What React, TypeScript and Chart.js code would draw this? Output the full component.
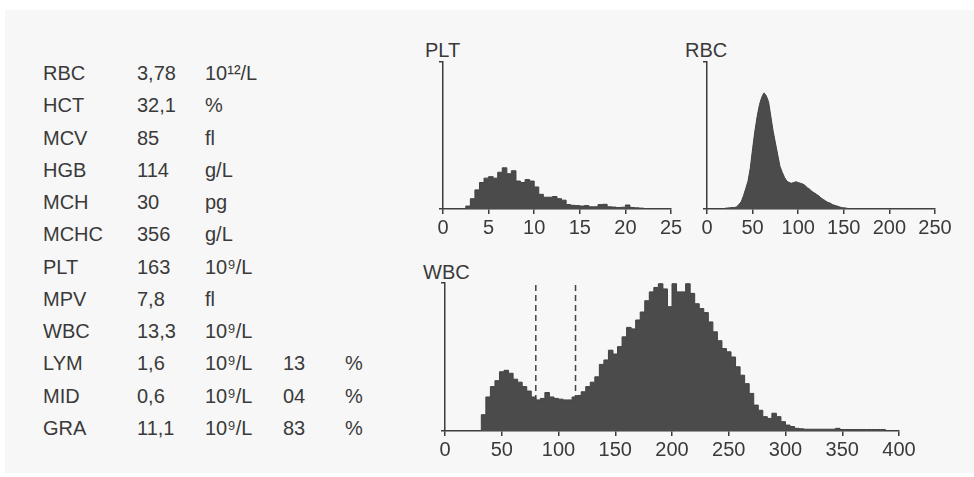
import React, { useEffect, useRef } from "react";
import { Chart, registerables } from "chart.js";

Chart.register(...registerables);

const FONT = "'Liberation Sans', Arial, Helvetica, sans-serif";
const INK = "#3a3a3a";
const AXIS = "#3c3c3c";
const FILL = "#4b4b4b";

// ---- parameter table ----
const paramNames = ["RBC", "HCT", "MCV", "HGB", "MCH", "MCHC", "PLT", "MPV", "WBC", "LYM", "MID", "GRA"];
const paramValues = ["3,78", "32,1", "85", "114", "30", "356", "163", "7,8", "13,3", "1,6", "0,6", "11,1"];
const paramUnits = ["10¹²/L", "%", "fl", "g/L", "pg", "g/L", "10⁹/L", "fl", "10⁹/L", "10⁹/L", "10⁹/L", "10⁹/L"];
const paramPercents = ["", "", "", "", "", "", "", "", "", "13", "04", "83"];
const paramPercentSign = ["", "", "", "", "", "", "", "", "", "%", "%", "%"];

// ---- PLT histogram (fl), 0.5 fl bins, relative height 0-100 ----
const pltBinWidth = 0.5;
const pltMax = 25;
const pltTicks = [0, 5, 10, 15, 20, 25];
const pltCounts = [
  0, 0, 0, 0, 0, 0, 2, 7, 13, 18,
  21, 22, 21, 25, 28, 24, 26, 19, 18, 20,
  19, 15, 10, 8, 8, 8.5, 7, 6, 3, 2.5,
  2.3, 2, 2.3, 1.5, 1.5, 3, 3.2, 1.5, 1.3, 1,
  1.2, 2.7, 1, 0.8, 0.6, 0.3, 0.2, 0.2, 0.2, 0.2,
];

// ---- RBC histogram (fl), points every 2.5 fl ----
const rbcStep = 2.5;
const rbcMax = 250;
const rbcTicks = [0, 50, 100, 150, 200, 250];
const rbcCounts = [
  0, 0, 0, 0, 0, 0, 0, 0, 0.5, 0.7,
  0.8, 1, 1, 1.5, 3, 5, 9, 14, 19, 28,
  41, 53, 63, 71, 76, 79, 77, 73, 63, 53,
  45, 37, 29, 25, 21.5, 19, 18, 17.5, 18, 18.5,
  18, 17.5, 17, 16, 14.5, 13.5, 12, 11, 10, 9,
  7.5, 6.5, 5.5, 4.5, 4, 3, 2.5, 2, 1.5, 1,
  0.8, 0.6, 0.3, 0.3, 0.3, 0.3, 0.3, 0.3, 0.3, 0.3,
  0.3, 0.3, 0.3, 0.3, 0.3, 0.3, 0.3, 0.3, 0.3, 0.3,
  0.3, 0.3, 0.3, 0.3, 0.3, 0.3, 0.3, 0.3, 0.3, 0.3,
  0.3, 0.3, 0.3, 0.3, 0.3, 0.3, 0.3, 0.3, 0.3, 0.3,
  0.3,
];

// ---- WBC histogram (fl), 4 fl bins ----
const wbcBinWidth = 4;
const wbcMax = 400;
const wbcTicks = [0, 50, 100, 150, 200, 250, 300, 350, 400];
const wbcGates = [80, 115];
const wbcCounts = [
  0, 0, 0, 0, 0, 0, 0, 0, 0,
  11, 23, 30, 34, 40, 41, 39, 35, 33, 30,
  27, 23, 21, 22, 26, 23, 22, 21.5, 21, 21,
  23, 24, 26.5, 30, 33, 36.6, 45, 48, 54.6, 52,
  57, 63.6, 70, 69, 75, 80.4, 88, 94, 97, 99.5,
  96, 84, 99.5, 94, 94, 99.5, 93, 86, 82.7, 80,
  73.7, 67, 61, 55.7, 53.5, 50, 43.4, 37.7, 32, 25.4,
  17.5, 14, 9.7, 8.5, 12, 9.7, 6.3, 4, 3, 1.8,
  1.5,
  1.2, 1.2, 1.2, 1.2, 1.2, 1.2, 1.2,
  1.8,
  1, 1, 1, 1, 1, 1, 1, 1, 1, 1,
  0, 0,
];

type Area = { x0: number; x1: number; y0: number; y1: number };

const PL = 14;
const YW = 6;
const PR = 24;
const PT = 12;
const XH = 38;
const PB = 4;
const TICK_FONT = 20;

function computeLayout(a: Area) {
  const left = a.x0 - PL - YW;
  const top = a.y0 - PT;
  const w = Math.ceil(a.x1 - left + PR);
  const h = Math.ceil(a.y1 - top + XH + PB);
  return {
    left,
    top,
    w,
    h,
    padRight: w - (a.x1 - left),
    padBottom: h - (a.y1 - top) - XH,
  };
}

type HistProps = {
  area: Area;
  xs: number[];
  ys: number[];
  xMax: number;
  ticks: number[];
  stepped: boolean;
  gates?: number[];
};

function Histogram(props: HistProps) {
  const ref = useRef<HTMLCanvasElement>(null);
  const L = computeLayout(props.area);
  useEffect(() => {
    const pts = props.xs.map((x, i) => ({ x, y: props.ys[i] }));
    const datasets: any[] = [
      {
        data: pts,
        stepped: props.stepped ? "after" : false,
        fill: "origin",
        backgroundColor: FILL,
        borderColor: "#424242",
        borderWidth: 1,
        pointRadius: 0,
        tension: 0,
        order: 0,
      },
    ];
    (props.gates || []).forEach((g) => {
      datasets.push({
        data: [
          { x: g, y: 0 },
          { x: g, y: 100 },
        ],
        fill: false,
        borderColor: "#444444",
        borderWidth: 1.5,
        borderDash: [6, 4],
        pointRadius: 0,
        order: 1,
      });
    });
    const chart = new Chart(ref.current as HTMLCanvasElement, {
      type: "line",
      data: { datasets },
      options: {
        animation: false,
        responsive: false,
        devicePixelRatio: 1,
        events: [],
        layout: {
          padding: { left: PL, right: L.padRight, top: PT, bottom: L.padBottom },
        },
        plugins: {
          legend: { display: false },
          tooltip: { enabled: false },
          title: { display: false },
        },
        scales: {
          x: {
            type: "linear",
            min: 0,
            max: props.xMax,
            afterBuildTicks: (s: any) => {
              s.ticks = props.ticks.map((v) => ({ value: v }));
            },
            afterFit: (s: any) => {
              s.height = XH;
            },
            ticks: {
              autoSkip: false,
              maxRotation: 0,
              padding: 2,
              color: INK,
              font: { family: FONT, size: TICK_FONT },
            },
            grid: {
              display: true,
              drawOnChartArea: false,
              drawTicks: true,
              tickLength: 5,
              color: AXIS,
              lineWidth: 1.5,
            },
            border: { display: true, color: AXIS, width: 1.5 },
          },
          y: {
            type: "linear",
            min: 0,
            max: 100,
            afterBuildTicks: (s: any) => {
              s.ticks = [{ value: 0 }, { value: 100 }];
            },
            afterFit: (s: any) => {
              s.width = YW;
            },
            ticks: { display: false },
            grid: {
              display: true,
              drawOnChartArea: false,
              drawTicks: true,
              tickLength: 4,
              color: AXIS,
              lineWidth: 1.5,
            },
            border: { display: true, color: AXIS, width: 1.5 },
          },
        },
      } as any,
    });
    return () => chart.destroy();
  }, []);
  return (
    <canvas
      ref={ref}
      width={L.w}
      height={L.h}
      style={{ position: "absolute", left: L.left, top: L.top, width: L.w, height: L.h }}
    />
  );
}

function stepXs(counts: number[], bw: number, xMax: number) {
  const xs = counts.map((_, i) => i * bw);
  xs.push(xMax);
  return xs;
}
function stepYs(counts: number[]) {
  return [...counts, counts[counts.length - 1]];
}

const ROW0 = 72.8;
const ROWSTEP = 32.25;
const COLS = [43, 137, 205, 283, 345];

function Cell({ x, y, text }: { x: number; y: number; text: string }) {
  return (
    <div
      style={{
        position: "absolute",
        left: x,
        top: y - 9.8,
        fontSize: 20,
        lineHeight: "20px",
        whiteSpace: "nowrap",
        color: INK,
      }}
    >
      {text}
    </div>
  );
}

function Title({ x, capTop, text }: { x: number; capTop: number; text: string }) {
  return (
    <div
      style={{
        position: "absolute",
        left: x,
        top: capTop - 2.6,
        fontSize: 20,
        lineHeight: "20px",
        whiteSpace: "nowrap",
        color: INK,
      }}
    >
      {text}
    </div>
  );
}

export default function App() {
  return (
    <div
      style={{
        position: "absolute",
        left: 0,
        top: 0,
        width: 974,
        height: 477,
        background: "#ffffff",
        overflow: "hidden",
        fontFamily: FONT,
      }}
    >
      <div
        style={{
          position: "absolute",
          left: 5,
          top: 10,
          right: 0,
          bottom: 4,
          background: "#f7f7f7",
        }}
      />
      {paramNames.map((n, i) => {
        const y = ROW0 + i * ROWSTEP;
        return (
          <React.Fragment key={n + i}>
            <Cell x={COLS[0]} y={y} text={n} />
            <Cell x={COLS[1]} y={y} text={paramValues[i]} />
            <Cell x={COLS[2]} y={y} text={paramUnits[i]} />
            {paramPercents[i] && <Cell x={COLS[3]} y={y} text={paramPercents[i]} />}
            {paramPercentSign[i] && <Cell x={COLS[4]} y={y} text={paramPercentSign[i]} />}
          </React.Fragment>
        );
      })}
      <Title x={425} capTop={43} text="PLT" />
      <Title x={685} capTop={43} text="RBC" />
      <Title x={423} capTop={265} text="WBC" />
      <Histogram
        area={{ x0: 443, x1: 671, y0: 62, y1: 209 }}
        xs={stepXs(pltCounts, pltBinWidth, pltMax)}
        ys={stepYs(pltCounts)}
        xMax={pltMax}
        ticks={pltTicks}
        stepped={true}
      />
      <Histogram
        area={{ x0: 707, x1: 935, y0: 62, y1: 209 }}
        xs={rbcCounts.map((_, i) => i * rbcStep)}
        ys={rbcCounts}
        xMax={rbcMax}
        ticks={rbcTicks}
        stepped={false}
      />
      <Histogram
        area={{ x0: 445, x1: 899, y0: 283, y1: 431 }}
        xs={stepXs(wbcCounts, wbcBinWidth, wbcMax)}
        ys={stepYs(wbcCounts)}
        xMax={wbcMax}
        ticks={wbcTicks}
        stepped={true}
        gates={wbcGates}
      />
    </div>
  );
}
